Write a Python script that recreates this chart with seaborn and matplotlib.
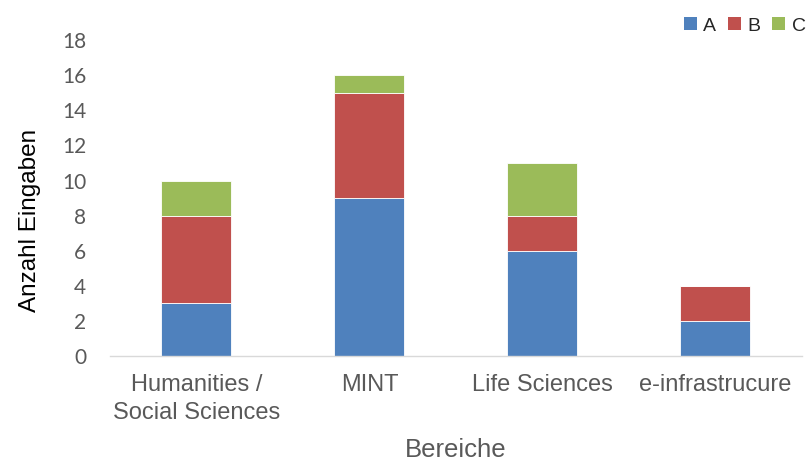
import matplotlib
matplotlib.use("Agg")
import matplotlib.pyplot as plt
from matplotlib.patches import Patch
import seaborn as sns
import pandas as pd
import numpy as np

categories = ["Humanities /\nSocial Sciences", "MINT", "Life Sciences", "e-infrastrucure"]
series_a = [3, 9, 6, 2]
series_b = [5, 6, 2, 2]
series_c = [2, 1, 3, 0]
series_names = ["A", "B", "C"]
colors = ["#4F81BD", "#C0504D", "#9BBB59"]
y_ticks = [0, 2, 4, 6, 8, 10, 12, 14, 16, 18]

sns.set_theme(style="white")
plt.rcParams["font.family"] = ["Liberation Sans", "DejaVu Sans"]

fig = plt.figure(figsize=(8.11, 4.61), dpi=100)
ax = fig.add_axes([0.1356, 0.2278, 0.853, 0.685])

bottom = np.zeros(len(categories))
for name, vals, col in zip(series_names, [series_a, series_b, series_c], colors):
    df = pd.DataFrame({"Bereich": categories, "Wert": vals})
    sns.barplot(data=df, x="Bereich", y="Wert", color=col, bottom=bottom,
                width=0.405, ax=ax, edgecolor="white", linewidth=0.6, saturation=1)
    bottom = bottom + np.array(vals)

ax.set_ylim(0, 18)
ax.set_yticks(y_ticks)
ax.set_xlim(-0.5, len(categories) - 0.5)
ax.tick_params(axis="y", labelsize=15, labelcolor="#595959", length=0, pad=17)
for lbl in ax.get_yticklabels():
    lbl.set_family(["Lato", "DejaVu Sans"])
ax.tick_params(axis="x", labelsize=17, labelcolor="#595959", length=0, pad=13)
for lbl in ax.get_xticklabels():
    lbl.set_linespacing(1.35)

for s in ["top", "right", "left"]:
    ax.spines[s].set_visible(False)
ax.spines["bottom"].set_color("#D9D9D9")
ax.spines["bottom"].set_linewidth(1.0)

ax.set_ylabel("Anzahl Eingaben", fontsize=17.5, color="black", labelpad=0)
ax.yaxis.set_label_coords(-0.099, 0.43)
ax.set_xlabel("Bereiche", fontsize=18.5, color="#595959")
ax.xaxis.set_label_coords(0.5, -0.26)

handles = [Patch(facecolor=c, edgecolor="none", label=n) for n, c in zip(series_names, colors)]
fig.legend(handles=handles, loc="upper right", bbox_to_anchor=(1.015, 1.0), ncol=3,
           frameon=False, fontsize=14, handlelength=0.65, handleheight=0.65,
           handletextpad=0.35, columnspacing=0.6)

fig.savefig("out.png", dpi=100)
